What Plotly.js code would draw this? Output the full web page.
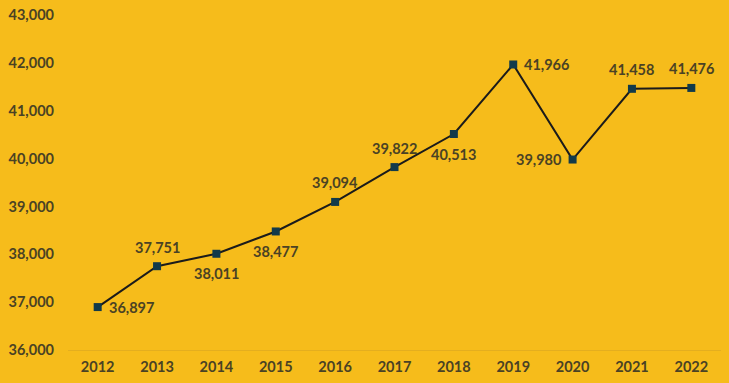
<!DOCTYPE html>
<html><head><meta charset="utf-8">
<script src="https://cdn.plot.ly/plotly-3.0.1.min.js"></script>
<style>html,body{margin:0;padding:0;background:#F6BC1B;}</style>
</head><body>
<div id="chart" style="width:729px;height:383px;"></div>
<script>
const years = ['2012','2013','2014','2015','2016','2017','2018','2019','2020','2021','2022'];
const values = [36897,37751,38011,38477,39094,39822,40513,41966,39980,41458,41476];
const labelPos = ['right','top','bottom','bottom','top','top','bottom','right','left','top','top'];
const yTicks = [36000,37000,38000,39000,40000,41000,42000,43000];

const textColor = '#4a4224';
const fontFam = 'Lato, Carlito, sans-serif';

const trace = {
  x: years, y: values, type: 'scatter', mode: 'lines+markers',
  line: {color: '#1b1b1b', width: 2},
  marker: {symbol: 'square', size: 8, color: '#123a4a'},
  cliponaxis: false, hoverinfo: 'none'
};

const annotations = years.map((yr, i) => {
  const p = labelPos[i];
  const a = {x: i, y: values[i], xref: 'x', yref: 'y', showarrow: false,
    text: '<b>' + String(values[i]).replace(/(\d)(?=(\d{3})+$)/g, '$1,') + '</b>',
    font: {family: fontFam, size: 14.5, color: textColor},
    xanchor: 'center', yanchor: 'middle', xshift: 0, yshift: 0};
  if (p === 'right') { a.xanchor = 'left'; a.xshift = 9; }
  if (p === 'left') { a.xanchor = 'right'; a.xshift = -9; }
  if (p === 'top') { a.yshift = 19; }
  if (p === 'bottom') { a.yshift = -20; }
  return a;
});

const layout = {
  width: 729, height: 383,
  paper_bgcolor: '#F6BC1B', plot_bgcolor: '#F6BC1B',
  margin: {l: 68, r: 8, t: 15, b: 33},
  showlegend: false,
  annotations: annotations,
  font: {family: fontFam, size: 14.5, color: textColor},
  xaxis: {type: 'category', range: [-0.5, 10.5], showgrid: false, zeroline: false,
    showline: true, linecolor: '#E4AE1F', linewidth: 1, ticks: '', ticklabelstandoff: 4,
    tickfont: {family: fontFam, size: 14.5, color: textColor, weight: 'bold'}},
  yaxis: {range: [36000, 43000], tickvals: yTicks, tickformat: ',', showgrid: false, zeroline: false,
    showline: false, ticks: '', ticklabelstandoff: 13,
    tickfont: {family: fontFam, size: 14.5, color: textColor, weight: 'bold'}}
};
Plotly.newPlot('chart', [trace], layout, {displayModeBar: false, staticPlot: true});
</script>
</body></html>
